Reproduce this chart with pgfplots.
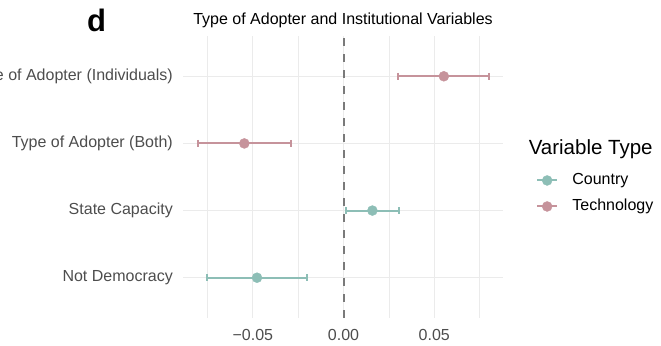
\documentclass[border=0pt]{standalone}
\usepackage{pgfplots}
\pgfplotsset{compat=1.18}
\usepackage{fontspec}
\setmainfont{Liberation Sans}

\definecolor{country}{HTML}{8DBEB6}
\definecolor{tech}{HTML}{C6939B}
\definecolor{gridc}{HTML}{EBEBEB}
\definecolor{ticktext}{HTML}{4D4D4D}
\definecolor{zeroline}{HTML}{7A7A7A}

\newcommand{\lbl}{\fontsize{16bp}{19bp}\selectfont}

% confidence intervals: (lower, row) -- (upper, row), one segment per variable
\pgfplotsset{
  interval/.style={line width=2bp, mark=|, mark size=3.5bp,
    mark options={solid, line width=2bp}, unbounded coords=jump},
  estimate/.style={only marks, mark=*, mark size=5bp},
}

\begin{document}
\begin{tikzpicture}
\path[use as bounding box] (0bp,0bp) rectangle (661bp,346bp);
\begin{axis}[
  at={(183bp,28bp)}, anchor=south west,
  scale only axis, width=320bp, height=282bp,
  xmin=-0.0885, xmax=0.0879,
  ymin=0.4, ymax=4.6,
  axis line style={draw=none},
  tick style={draw=none},
  xtick={-0.05,0,0.05},
  xticklabels={−0.05,0.00,0.05},
  minor xtick={-0.075,-0.025,0.025,0.075},
  ytick={1,2,3,4},
  yticklabels={Not Democracy,State Capacity,Type of Adopter (Both),Type of Adopter (Individuals)},
  xmajorgrids, ymajorgrids, xminorgrids,
  major grid style={gridc, line width=1.1bp},
  minor grid style={gridc, line width=0.6bp},
  xticklabel style={font=\lbl, text=ticktext, inner sep=0pt, anchor=north, yshift=-11.5bp},
  yticklabel style={font=\lbl, text=ticktext, inner sep=0pt, xshift=-10bp},
  clip=false,
  legend style={at={(1.103,0.515)}, anchor=north west, draw=none, fill=none,
    inner sep=0pt, row sep=11bp, column sep=0bp,
    nodes={inner sep=0pt, text height=11.5bp, text depth=3.5bp, font=\lbl}},
  legend cell align=left,
  legend image code/.code={%
    \draw[line width=2bp] (-10bp,0bp) -- (10bp,0bp);
    \fill (0bp,0bp) circle (5bp);
    \path (25bp,0bp);
  },
]
% reference line at zero
\addplot[forget plot, zeroline, line width=2bp, dash pattern=on 8bp off 8bp]
  coordinates {(0,0.4) (0,4.6)};

% technology variables
\addplot[forget plot, tech, interval]
  coordinates {(0.0302,4) (0.0804,4) (nan,nan) (-0.0802,3) (-0.0292,3)};
\addplot[forget plot, tech, estimate]
  coordinates {(0.0553,4) (-0.0547,3)};

% country variables
\addplot[forget plot, country, interval]
  coordinates {(0.0013,2) (0.0305,2) (nan,nan) (-0.0753,1) (-0.0201,1)};
\addplot[forget plot, country, estimate]
  coordinates {(0.0159,2) (-0.0477,1)};

\addlegendimage{country}
\addlegendentry{Country}
\addlegendimage{tech}
\addlegendentry{Technology}

\node[anchor=west, inner sep=0pt, font=\fontsize{20.5bp}{24bp}\selectfont]
  at (rel axis cs:1.08,0.6) {Variable Type};
\node[inner sep=0pt, font=\fontsize{16bp}{19bp}\selectfont]
  at (rel axis cs:0.5,1.055) {Type of Adopter and Institutional Variables};
\node[inner sep=0pt, font=\fontsize{31bp}{34bp}\selectfont\bfseries]
  at (rel axis cs:-0.27,1.056) {d};
\end{axis}
\end{tikzpicture}
\end{document}
